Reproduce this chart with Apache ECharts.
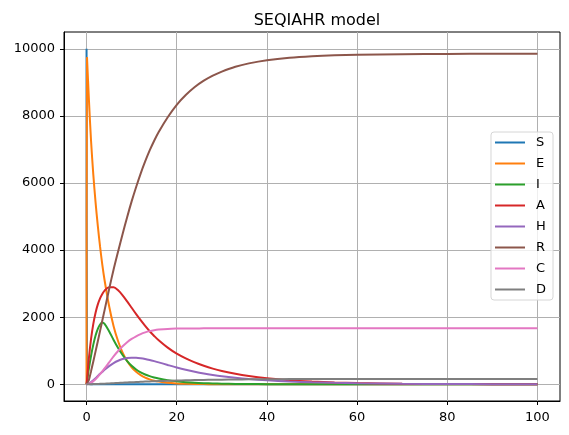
<!DOCTYPE html>
<html>
<head>
<meta charset="utf-8">
<script src="https://cdn.jsdelivr.net/npm/echarts@6/dist/echarts.min.js"></script>
<style>
  html, body { margin: 0; padding: 0; background: #fff; }
  #chart { width: 569px; height: 435px; }
</style>
</head>
<body>
<div id="chart"></div>
<script>
// time samples (days)
const times = [0, 0.1, 0.5, 1, 1.5, 2, 2.5, 3, 3.5, 4, 5, 6, 7, 8, 9, 10, 11, 12, 13, 14,
  15, 16, 18, 20, 22, 24, 26, 28, 30, 33, 36, 40, 45, 50, 55, 60, 70, 80, 90, 100];

const S = [10000, 15, 5, 2, 1, 0, 0, 0, 0, 0, 0, 0, 0, 0, 0, 0, 0, 0, 0, 0,
  0, 0, 0, 0, 0, 0, 0, 0, 0, 0, 0, 0, 0, 0, 0, 0, 0, 0, 0, 0];
const E = [0, 9750, 8550, 7250, 6250, 5420, 4720, 4100, 3560, 3100, 2330, 1730, 1280, 940, 690, 505, 370, 270, 198, 145,
  106, 78, 42, 23, 12, 7, 4, 2, 1, 0, 0, 0, 0, 0, 0, 0, 0, 0, 0, 0];
const I = [0, 60, 450, 850, 1180, 1450, 1650, 1780, 1840, 1800, 1580, 1320, 1080, 870, 690, 550, 440, 355, 290, 240,
  200, 168, 120, 86, 62, 44, 32, 23, 16, 10, 6, 3, 1, 0, 0, 0, 0, 0, 0, 0];
const A = [0, 120, 750, 1350, 1800, 2130, 2380, 2560, 2690, 2790, 2890, 2890, 2800, 2650, 2470, 2280, 2090, 1910, 1740, 1580,
  1440, 1310, 1090, 910, 770, 650, 550, 465, 395, 310, 245, 180, 120, 80, 52, 34, 15, 6, 3, 1];
const H = [0, 2, 20, 65, 120, 180, 245, 310, 370, 430, 540, 630, 700, 750, 780, 792, 790, 775, 752, 722,
  688, 652, 575, 500, 432, 372, 320, 276, 238, 192, 155, 117, 82, 58, 41, 29, 14, 7, 3, 2];
const R = [0, 5, 120, 390, 680, 980, 1280, 1590, 1900, 2210, 2830, 3420, 3960, 4480, 4980, 5450, 5880, 6280, 6640, 6970,
  7260, 7520, 7960, 8330, 8620, 8860, 9050, 9200, 9320, 9465, 9565, 9660, 9735, 9780, 9808, 9823, 9840, 9847, 9850, 9852];
const C = [0, 0, 12, 45, 92, 150, 220, 300, 385, 470, 650, 830, 990, 1130, 1250, 1350, 1430, 1495, 1545, 1583,
  1610, 1628, 1650, 1659, 1663, 1664, 1665, 1665, 1665, 1665, 1665, 1665, 1665, 1665, 1665, 1665, 1665, 1665, 1665, 1665];
const D = [0, 0, 1, 2, 4, 6, 8, 11, 14, 17, 24, 31, 38, 45, 52, 59, 66, 72, 78, 84,
  89, 94, 103, 111, 118, 124, 129, 133, 137, 142, 146, 150, 153, 155, 156, 157, 158, 158, 158, 158];

const seriesNames = ['S', 'E', 'I', 'A', 'H', 'R', 'C', 'D'];
const seriesValues = [S, E, I, A, H, R, C, D];
const colors = ['#1f77b4', '#ff7f0e', '#2ca02c', '#d62728', '#9467bd', '#8c564b', '#e377c2', '#7f7f7f'];

const xTicks = [0, 20, 40, 60, 80, 100];
const yTicks = [0, 2000, 4000, 6000, 8000, 10000];

const font = 'DejaVu Sans';

const chart = echarts.init(document.getElementById('chart'), null, { renderer: 'canvas' });

const gridLine = { show: true, lineStyle: { color: '#b0b0b0', width: 1 } };

chart.setOption({
  animation: false,
  backgroundColor: '#fff',
  color: colors,
  title: {
    text: 'SEQIAHR model',
    left: 312,
    textAlign: 'center',
    top: 8,
    textStyle: { fontFamily: font, fontSize: 16, fontWeight: 'normal', color: '#000' }
  },
  grid: {
    left: 64, right: 9, top: 32, bottom: 34,
    show: true, borderColor: '#000', borderWidth: 1
  },
  legend: {
    orient: 'vertical',
    right: 16,
    top: 132,
    icon: 'rect',
    itemWidth: 30,
    itemHeight: 2,
    itemGap: 8,
    padding: [4, 7, 4, 4],
    backgroundColor: 'rgba(255,255,255,0.8)',
    borderColor: '#d6d6d6',
    borderWidth: 1,
    borderRadius: 3,
    textStyle: { fontFamily: font, fontSize: 13, color: '#000', padding: [0, 0, 0, 6] },
    data: seriesNames
  },
  xAxis: {
    type: 'value',
    min: -5,
    max: 105,
    axisLine: { show: true, onZero: false, lineStyle: { color: '#000', width: 1 } },
    axisTick: { show: true, length: 4, customValues: xTicks, lineStyle: { color: '#000' } },
    axisLabel: { customValues: xTicks, margin: 10, fontFamily: font, fontSize: 13, color: '#000',
      formatter: v => String(v) },
    splitLine: gridLine
  },
  yAxis: {
    type: 'value',
    min: -500,
    max: 10500,
    axisLine: { show: true, onZero: false, lineStyle: { color: '#000', width: 1 } },
    axisTick: { show: true, length: 4, customValues: yTicks, lineStyle: { color: '#000' } },
    axisLabel: { customValues: yTicks, margin: 9, fontFamily: font, fontSize: 13, color: '#000',
      formatter: v => String(v) },
    splitLine: gridLine
  },
  series: seriesNames.map((name, k) => ({
    name,
    type: 'line',
    symbol: 'none',
    smooth: 0.3,
    lineStyle: { width: 2, color: colors[k] },
    itemStyle: { color: colors[k] },
    data: times.map((t, i) => [t, seriesValues[k][i]])
  }))
});
</script>
</body>
</html>
